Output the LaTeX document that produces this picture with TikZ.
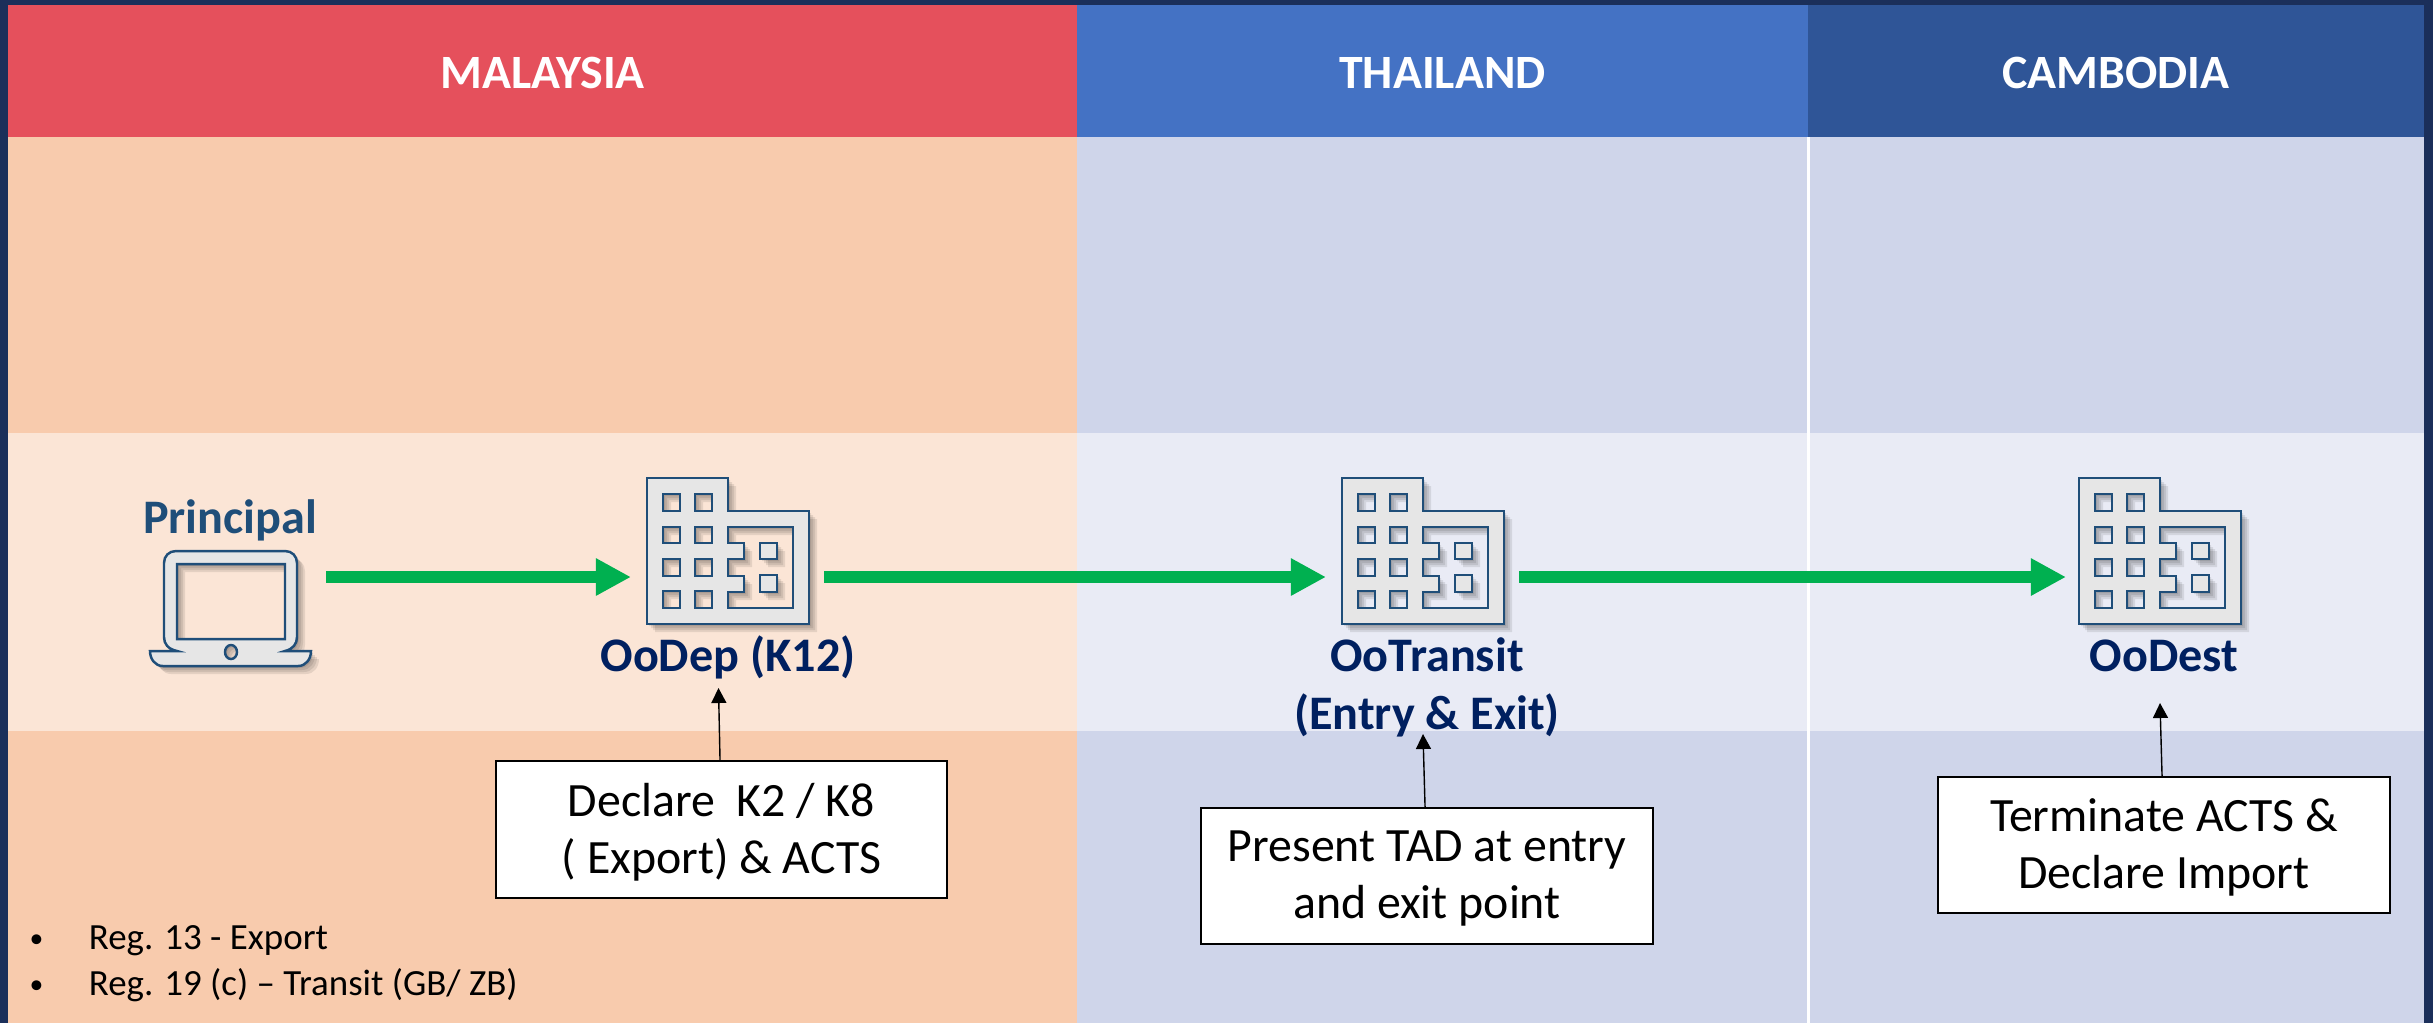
\documentclass[tikz,border=0pt]{standalone}
\usepackage{fontspec}
\setmainfont{Carlito}
\usetikzlibrary{arrows.meta}
\definecolor{framebar}{HTML}{1B2F5A}
\definecolor{redhead}{HTML}{E5505C}
\definecolor{bluehead}{HTML}{4472C4}
\definecolor{darkhead}{HTML}{2F5597}
\definecolor{peachrow}{HTML}{F8CBAD}
\definecolor{peachband}{HTML}{FBE5D6}
\definecolor{lilacrow}{HTML}{CFD5EA}
\definecolor{lilacband}{HTML}{E9EBF5}
\definecolor{iconline}{HTML}{1F4E79}
\definecolor{iconbody}{HTML}{E6E6E6}
\definecolor{labelblue}{HTML}{002060}
\definecolor{flowgreen}{HTML}{00B050}
\newcommand{\officepath}{
	(0,0) -- (81,0) -- (81,33) -- (162,33) -- (162,146) -- (0,146) -- cycle
	(81,49) -- (146,49) -- (146,130) -- (81,130) -- (81,114) -- (97,114) -- (97,98) -- (81,98) -- (81,81) -- (97,81) -- (97,65) -- (81,65) -- cycle
	(113,65) rectangle (130,81)
	(113,97) rectangle (130,114)
	(16,16) rectangle (33,33) (48,16) rectangle (65,33)
	(16,49) rectangle (33,65) (48,49) rectangle (65,65)
	(16,81) rectangle (33,98) (48,81) rectangle (65,98)
	(16,113) rectangle (33,130) (48,113) rectangle (65,130)
}
\newcommand{\laptoppath}{
	(14,12) .. controls (14,5) and (19,0) .. (26,0) -- (135,0) .. controls (142,0) and (147,5) .. (147,12) -- (147,86) .. controls (147,93) and (143,98) .. (135,100) -- (161,100) .. controls (161,108) and (156,115) .. (148,115) -- (13,115) .. controls (5,115) and (0,108) .. (0,100) -- (27,100) .. controls (18,98) and (14,93) .. (14,86) -- cycle
	(27,13) rectangle (135,88)
	(81,101) ellipse [x radius=6, y radius=7]
}
\newcommand{\regbullet}{\raisebox{0.4pt}{\scalebox{0.75}{\textbullet}}\hskip 12.9pt}
\tikzset{
	head/.style = {inner sep=0pt, outer sep=0pt, minimum height=1.32cm, text height=9.7pt, text depth=0pt, text=white, font=\fontsize{13.6}{16}\selectfont\bfseries},
	iconfill/.style = {fill=iconbody, draw=iconline, line width=0.7pt, even odd rule},
	iconshadow/.style = {fill=black, fill opacity=0.09, even odd rule},
	pics/officeblock/.style = {code={
		\foreach \s in {2,4,6,8} \fill[iconshadow, shift={(\s,\s)}] \officepath;
		\path[iconfill] \officepath;
	}},
	pics/laptopicon/.style = {code={
		\foreach \s in {2,4,6,8} \fill[iconshadow, shift={(\s,\s)}] \laptoppath;
		\path[iconfill] \laptoppath;
	}},
	iconbox/.style = {inner sep=0pt, outer sep=0pt, minimum width=1.62cm, minimum height=1.98cm},
	place/.style = {anchor=base, text=labelblue, font=\fontsize{13.7}{16.4}\selectfont\bfseries, align=center},
	notebox/.style = {draw=black, fill=white, line width=0.45pt, inner sep=0pt, minimum width=4.5cm, minimum height=1.36cm, text depth=0.9pt, align=center, font=\fontsize{13.6}{16.2}\selectfont},
	reglist/.style = {anchor=base west, inner sep=0pt, font=\fontsize{10.5}{12}\selectfont},
	flow/.style = {-{Triangle[length=3.5mm, width=3.5mm]}, line width=0.12cm, flowgreen, shorten >=0.16cm, shorten <=0.15cm},
	pointer/.style = {-{Triangle[length=1.5mm, width=1.5mm]}, line width=0.4pt, black}
}
\begin{document}
\begin{tikzpicture}[x=0.01cm, y=-0.01cm]
		\useasboundingbox (0,0) rectangle (2433,1023);
		\fill[framebar] (0,0) rectangle (2433,1023);
		% rows
		\fill[peachrow] (8,137) rectangle (1077,1023);
		\fill[lilacrow] (1077,137) rectangle (2424,1023);
		\fill[peachband] (8,433) rectangle (1077,731);
		\fill[lilacband] (1077,433) rectangle (2424,731);
		\fill[white] (1807,137) rectangle (1810,1023);
		% header
		\node[head, fill=redhead, minimum width=10.69cm] (malaysia) at (542.5,71) {MALAYSIA};
		\node[head, fill=bluehead, minimum width=7.31cm] (thailand) at (1442.5,71) {THAILAND};
		\node[head, fill=darkhead, minimum width=6.16cm] (cambodia) at (2116,71) {CAMBODIA};
		% icons
		\pic at (150,551) {laptopicon};
		\node[iconbox, minimum width=1.61cm, minimum height=1.78cm] (principal) at (230.5,577) {};
		\foreach \name/\i in {oodep/647, ootransit/1342, oodest/2079} {
			\pic at (\i,478) {officeblock};
			\node[iconbox] (\name) at (\i+81,577) {};
		}
		% labels
		\node[place, text=iconline] (principallabel) at (230,533) {Principal};
		\node[place] (oodeplabel) at (728,671) {OoDep (K12)};
		\node[place] (ootransitlabel) at (1427,729) {OoTransit\\(Entry \& Exit)};
		\node[place] (oodestlabel) at (2164,671) {OoDest};
		% flow
		\draw[flow] (principal) -- (oodep);
		\draw[flow] (oodep) -- (ootransit);
		\draw[flow, shorten >=0.13cm] (ootransit) -- (oodest);
		% notes
		\node[notebox, minimum width=4.51cm, minimum height=1.37cm] (declare) at (721.5,829.5) {Declare\ \ K2 / K8\\( Export) \& ACTS};
		\node[notebox, minimum width=4.52cm, minimum height=1.36cm] (present) at (1427,876) {Present TAD at entry\\and exit point};
		\node[notebox, minimum width=4.52cm, minimum height=1.36cm] (terminate) at (2164,845) {Terminate ACTS \&\\Declare Import};
		\coordinate (deptip) at (718.5,688);
		\coordinate (transittip) at (1423,734);
		\coordinate (desttip) at (2160,703);
		\draw[pointer] (declare) -- (deptip);
		\draw[pointer] (present) -- (transittip);
		\draw[pointer] (terminate) -- (desttip);
		% regulations
		\node[reglist] (regexport) at (29,949) {\regbullet Reg. 13 - Export};
		\node[reglist] (regtransit) at (29,995) {\regbullet Reg. 19 (c) – Transit (GB/ ZB)};
	\end{tikzpicture}
\end{document}
